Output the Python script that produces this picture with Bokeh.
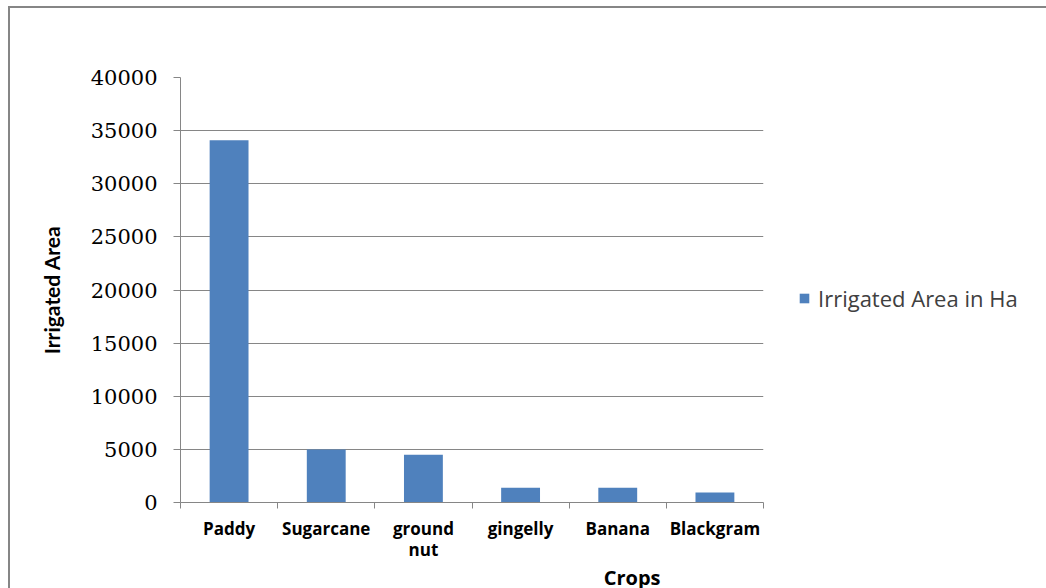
from bokeh.plotting import figure
from bokeh.models import ColumnDataSource, FixedTicker, Legend, LegendItem, Title
from bokeh.embed import file_html
from bokeh.resources import INLINE

# ---- data ----
crops = ["Paddy", "Sugarcane", "ground\nnut", "gingelly", "Banana", "Blackgram"]
irrigated_area = [34100, 5000, 4500, 1400, 1400, 950]
y_ticks = [0, 5000, 10000, 15000, 20000, 25000, 30000, 35000, 40000]
series_name = "Irrigated Area in Ha"
x_title = "Crops"
y_title = "Irrigated Area"

BAR = "#4F81BD"
GRID = "#868686"

xs = [i + 0.5 for i in range(len(crops))]
src = ColumnDataSource(dict(x=xs, top=irrigated_area, crop=crops))

p = figure(frame_width=583, frame_height=425, x_range=(0, len(crops)), y_range=(0, 40000),
           output_backend="svg", toolbar_location=None,
           min_border_left=170, min_border_right=10, min_border_top=69, min_border_bottom=10)
p.styles = {"margin-left": "8px", "margin-top": "6px",
            "border-left": "2px solid #868686", "border-top": "2px solid #868686"}
p.outline_line_color = None
p.background_fill_color = "white"
p.border_fill_color = "white"

r = p.vbar(x="x", top="top", width=0.4, source=src, fill_color=BAR, line_color=None)

# x axis: labels at centres, tick marks at category boundaries (minor ticks)
xa = p.xaxis[0]
xa.ticker = FixedTicker(ticks=xs, minor_ticks=list(range(len(crops) + 1)))
xa.major_label_overrides = {x: c for x, c in zip(xs, crops)}
xa.major_tick_line_color = None
xa.major_tick_out = 0
xa.major_tick_in = 0
xa.minor_tick_line_color = GRID
xa.minor_tick_out = 6
xa.minor_tick_in = 0
xa.axis_line_color = GRID
xa.major_label_text_font = "Open Sans"
xa.major_label_text_font_size = "17px"
xa.major_label_text_font_style = "bold"
xa.major_label_text_color = "#000000"
xa.major_label_text_line_height = 0.92
xa.major_label_standoff = 8

ya = p.yaxis[0]
ya.ticker = FixedTicker(ticks=y_ticks)
ya.major_tick_line_color = GRID
ya.major_tick_out = 7
ya.major_tick_in = 0
ya.minor_tick_line_color = None
ya.axis_line_color = GRID
ya.major_label_text_font = "DejaVu Serif"
ya.major_label_text_font_size = "21px"
ya.major_label_text_color = "#000000"
ya.major_label_standoff = 16
ya.axis_label = y_title
ya.axis_label_text_font = "Lato"
ya.axis_label_text_font_size = "21px"
ya.axis_label_text_font_style = "bold"
ya.axis_label_text_color = "#000000"
ya.axis_label_standoff = 24

p.xgrid.grid_line_color = None
p.ygrid.grid_line_color = GRID
p.ygrid.grid_line_width = 1
p.ygrid.ticker = FixedTicker(ticks=y_ticks)

p.add_layout(Title(text=x_title, align="right", offset=103, vertical_align="top",
                   text_font="Open Sans", text_font_size="20px", text_font_style="bold",
                   text_color="#000000", standoff=0), "below")

legend = Legend(items=[LegendItem(label=series_name, renderers=[r])],
                location=(35, 189), margin=0, padding=10, border_line_color=None,
                background_fill_alpha=0, glyph_width=12, glyph_height=12, label_standoff=8,
                label_text_font="Open Sans", label_text_font_size="22px",
                label_text_color="#404040")
p.add_layout(legend, "right")

open("out.html", "w").write(file_html(p, INLINE))
